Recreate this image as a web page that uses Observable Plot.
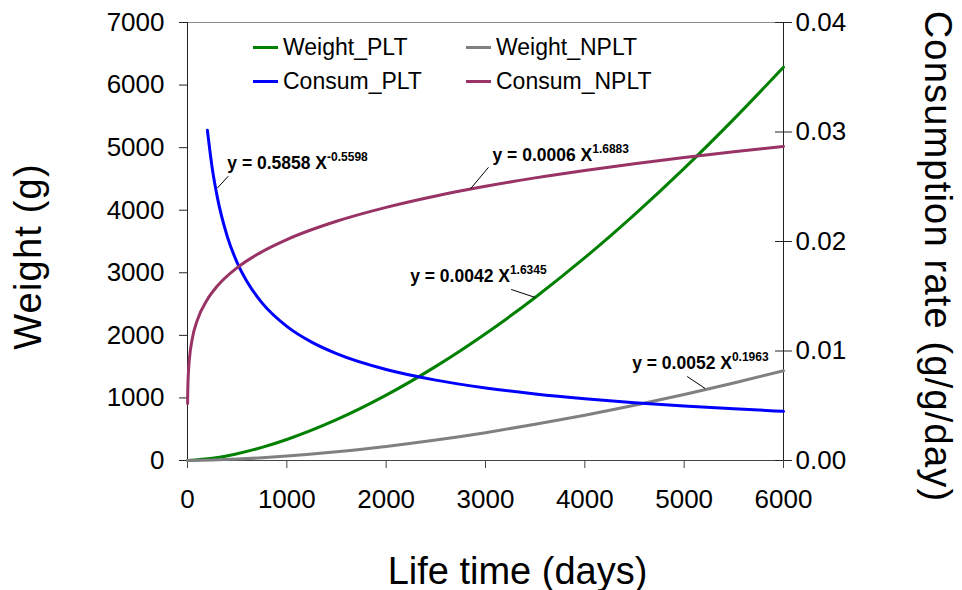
<!DOCTYPE html>
<html><head><meta charset="utf-8">
<script src="https://cdn.jsdelivr.net/npm/d3@7"></script>
<script src="https://cdn.jsdelivr.net/npm/@observablehq/plot@0.6"></script>
<style>
body{margin:0;background:#fff;}
#wrap{position:relative;width:962px;height:590px;font-family:"Liberation Sans",Arial,sans-serif;}
#legend{position:absolute;left:253px;top:30px;display:grid;grid-template-columns:213px auto;grid-auto-rows:34px;font-size:23px;color:#000;}
.item{display:flex;align-items:center;white-space:nowrap;}
.sw{display:inline-block;width:25px;height:3px;margin-right:5px;}
</style></head><body><div id="wrap"><div id="legend"></div></div>
<script>
// ---------- data ----------
const xTicks = [0, 1000, 2000, 3000, 4000, 5000, 6000];
const yTicks = [0, 1000, 2000, 3000, 4000, 5000, 6000, 7000];
const rightTicks = [0, 0.01, 0.02, 0.03, 0.04];

const seriesNames = ["Weight_PLT", "Weight_NPLT", "Consum_PLT", "Consum_NPLT"];

// weight curves (g), left axis
const weightDays = [0, 250, 500, 750, 1000, 1500, 2000, 2500, 3000, 3500, 4000, 4500, 5000, 5500, 6000];
const weightPLT  = [0, 35, 108, 210, 336, 652, 1044, 1504, 2026, 2606, 3241, 3930, 4669, 5456, 6287];
const weightNPLT = [0, 7, 22, 43, 70, 138, 225, 327, 445, 578, 724, 883, 1055, 1239, 1434];

// consumption curves (g/g/day), right axis
const consumDaysPLT = [200, 250, 300, 400, 500, 600, 750, 1000, 1250, 1500, 2000, 2500, 3000, 3500, 4000, 4500, 5000, 5500, 6000];
const consumPLT     = [0.03017, 0.02663, 0.02405, 0.02047, 0.01807, 0.01632, 0.01440, 0.01225, 0.01081, 0.00976, 0.00831, 0.00734, 0.00663, 0.00608, 0.00564, 0.00528, 0.00498, 0.00472, 0.00449];
const consumDaysNPLT = [1, 2, 5, 10, 20, 50, 100, 200, 300, 500, 750, 1000, 1500, 2000, 2500, 3000, 3500, 4000, 4500, 5000, 5500, 6000];
const consumNPLT     = [0.00520, 0.00596, 0.00713, 0.00817, 0.00936, 0.01121, 0.01284, 0.01471, 0.01593, 0.01761, 0.01907, 0.02018, 0.02185, 0.02312, 0.02416, 0.02504, 0.02581, 0.02649, 0.02711, 0.02767, 0.02820, 0.02868];

// fitted-equation labels: text, series they point at, day of the anchor point
const eqLabels  = ["y = 0.5858 X^-0.5598", "y = 0.0006 X^1.6883", "y = 0.0042 X^1.6345", "y = 0.0052 X^0.1963"];
const eqSeries  = ["Consum_PLT", "Consum_NPLT", "Weight_PLT", "Weight_NPLT"];
const eqAnchorDay = [300, 3000, 3500, 5000];

const xTitle = "Life time (days)";
const yTitle = "Weight (g)";
const y2Title = "Consumption rate (g/g/day)";

// ---------- styling / layout ----------
const colors = {Weight_PLT: "#008000", Weight_NPLT: "#808080", Consum_PLT: "#0000ff", Consum_NPLT: "#993366"};
const W = 962, H = 590, mL = 187, mR = 179, mT = 22, mB = 130;
const K = 7000 / 0.04;                    // right axis -> left axis units
const pxDay = (W - mL - mR) / 6000;
const pxWt = (H - mT - mB) / 7000;

const rows = [];
weightDays.forEach((d, i) => {
  rows.push({series: "Weight_PLT", day: d, y: weightPLT[i]});
  rows.push({series: "Weight_NPLT", day: d, y: weightNPLT[i]});
});
consumDaysPLT.forEach((d, i) => rows.push({series: "Consum_PLT", day: d, y: consumPLT[i] * K}));
consumDaysNPLT.forEach((d, i) => rows.push({series: "Consum_NPLT", day: d, y: consumNPLT[i] * K}));

// annotation offsets in pixels: [leader start dx, dy, leader end dx, dy], [text dx, dy]
const leadOff = [[0, -9, 11, -21], [-15, 2.5, 3, -19], [0, 0, -24, -8], [21, -6, 3, -18]];
const textOff = [[10, -28], [7, -25], [-125, -15], [-52, -25]];
const ann = eqLabels.map((lab, i) => {
  const p = rows.find(r => r.series === eqSeries[i] && r.day === eqAnchorDay[i]);
  const L = leadOff[i], T = textOff[i];
  return {
    label: lab,
    x1: p.day + L[0] / pxDay, y1: p.y - L[1] / pxWt,
    x2: p.day + L[2] / pxDay, y2: p.y - L[3] / pxWt,
    tx: p.day + T[0] / pxDay, ty: p.y - T[1] / pxWt
  };
});

const chart = Plot.plot({
  width: W, height: H,
  marginLeft: mL, marginRight: mR, marginTop: mT, marginBottom: mB,
  style: {fontFamily: "Liberation Sans, Arial, sans-serif", fontSize: "26px", background: "#fff", overflow: "visible", color: "#000"},
  x: {domain: [0, 6000]},
  y: {domain: [0, 7000]},
  marks: [
    Plot.frame({stroke: "#8c8c8c"}),
    Plot.ruleX([0], {stroke: "#222"}),
    Plot.ruleX([6000], {stroke: "#222"}),
    Plot.ruleY([0], {stroke: "#444"}),
    Plot.axisX({ticks: xTicks, tickSize: 8, tickPadding: 21, label: null, tickFormat: d => String(d), stroke: "#444", fill: "#000"}),
    Plot.axisY({ticks: yTicks, tickSize: 8, tickPadding: 15, label: null, tickFormat: d => String(d), stroke: "#222", fill: "#000"}),
    Plot.axisY({anchor: "right", ticks: rightTicks.map(v => v * K), tickSize: 8, tickPadding: 4, label: null,
                tickFormat: d => (d / K).toFixed(2), stroke: "#222", fill: "#000"}),
    Plot.ruleY(rightTicks.map(v => v * K), {x1: 6000 - 8 / pxDay, x2: 6000, stroke: "#222"}),
    ...seriesNames.map(s => Plot.line(rows.filter(r => r.series === s),
      {x: "day", y: "y", stroke: colors[s], strokeWidth: 3, curve: "monotone-x"})),
    Plot.link(ann, {x1: "x1", y1: "y1", x2: "x2", y2: "y2", stroke: "#000", strokeWidth: 1}),
    Plot.text(ann, {x: "tx", y: "ty", text: "label", textAnchor: "start", lineAnchor: "bottom",
                    fontSize: 17.5, fontWeight: "bold", fill: "#000"}),
    Plot.text([xTitle], {text: d => d, frameAnchor: "bottom", textAnchor: "middle", dx: 32, dy: 123, lineAnchor: "bottom", fontSize: 38, fill: "#000"}),
    Plot.text([yTitle], {text: d => d, frameAnchor: "left", textAnchor: "middle", lineAnchor: "middle", rotate: -90, dx: -159, dy: 15, fontSize: 38, fill: "#000", className: "vtitle"}),
    Plot.text([y2Title], {text: d => d, frameAnchor: "right", textAnchor: "middle", lineAnchor: "middle", rotate: 90, dx: 154, dy: 15, fontSize: 38, fill: "#000", className: "vtitle"})
  ]
});

// superscripts for the equation labels
const NS = "http://www.w3.org/2000/svg";
chart.querySelectorAll("text").forEach(t => {
  const s = t.textContent;
  if (s.includes("^")) {
    const [main, sup] = s.split("^");
    t.textContent = main;
    const ts = document.createElementNS(NS, "tspan");
    ts.setAttribute("dy", "-8");
    ts.setAttribute("font-size", "12");
    ts.textContent = sup;
    t.appendChild(ts);
  }
  if (s === yTitle || s === y2Title) t.setAttribute("letter-spacing", "1.2");
});

const wrap = document.getElementById("wrap");
wrap.insertBefore(chart, wrap.firstChild);

// legend
const legend = document.getElementById("legend");
["Weight_PLT", "Weight_NPLT", "Consum_PLT", "Consum_NPLT"].forEach(s => {
  const it = document.createElement("div");
  it.className = "item";
  const sw = document.createElement("span");
  sw.className = "sw";
  sw.style.background = colors[s];
  it.appendChild(sw);
  it.appendChild(document.createTextNode(s));
  legend.appendChild(it);
});
</script></body></html>
